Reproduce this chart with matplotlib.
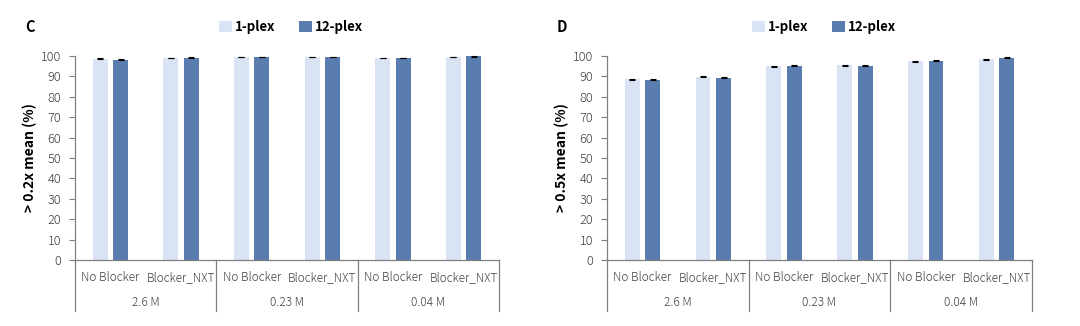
import numpy as np
import matplotlib

matplotlib.use("Agg")
import matplotlib.pyplot as plt
from matplotlib.patches import Patch

plt.rcParams["font.family"] = ["Noto Sans CJK JP", "DejaVu Sans"]

# Sub-categories (blocker) within each input-amount group
conditions = ["No Blocker", "Blocker_NXT", "No Blocker", "Blocker_NXT", "No Blocker", "Blocker_NXT"]
groups = ["2.6 M", "0.23 M", "0.04 M"]
series = ["1-plex", "12-plex"]

# Panel C: > 0.2x mean (%)
c_1plex = [98.7, 99.0, 99.6, 99.6, 99.1, 99.5]
c_12plex = [98.2, 99.2, 99.5, 99.6, 99.0, 99.8]
c_err_1 = [0.15, 0.15, 0.15, 0.15, 0.15, 0.15]
c_err_12 = [0.15, 0.15, 0.15, 0.15, 0.15, 0.15]

# Panel D: > 0.5x mean (%)
d_1plex = [88.6, 89.8, 95.0, 95.4, 97.4, 98.4]
d_12plex = [88.3, 89.3, 95.3, 95.3, 97.7, 99.2]
d_err_1 = [0.2, 0.2, 0.2, 0.2, 0.2, 0.2]
d_err_12 = [0.2, 0.2, 0.2, 0.2, 0.2, 0.2]

LIGHT = "#dae3f3"
DARK = "#5a7db0"
AXIS_GRAY = "#7f7f7f"
TEXT_GRAY = "#3f3f3f"

W, H = 1080, 326


def draw_panel(ax, vals1, vals12, err1, err12, ylabel):
    n = len(conditions)
    x = np.arange(n)
    bw = 0.21
    off = 0.145
    ax.bar(x - off, vals1, bw, color=LIGHT, zorder=2)
    ax.bar(x + off, vals12, bw, color=DARK, zorder=2)
    for xs, vals, err in ((x - off, vals1, err1), (x + off, vals12, err12)):
        ax.errorbar(xs, vals, yerr=err, fmt="none", ecolor="black",
                    elinewidth=0.8, capsize=2.5, capthick=0.8, zorder=3,
                    clip_on=False)

    ax.set_xlim(-0.5, n - 0.5)
    ax.set_ylim(0, 100)
    ax.set_yticks(np.arange(0, 101, 10))
    ax.tick_params(axis="y", direction="out", length=4, width=0.8, color=AXIS_GRAY,
                   labelsize=9.2, labelcolor=TEXT_GRAY, pad=6)
    for lab in ax.get_yticklabels():
        lab.set_fontweight("light")
    ax.set_xticks([])
    for s in ["top", "right", "left"]:
        ax.spines[s].set_visible(False)
    ax.spines["bottom"].set_color(AXIS_GRAY)
    ax.spines["bottom"].set_linewidth(0.9)

    # left spine running from 100 down through the category rows
    trans = ax.get_xaxis_transform()
    ax.plot([-0.5, -0.5], [1.0, -0.25], transform=trans, color=AXIS_GRAY,
            lw=0.9, clip_on=False)
    # vertical separators between groups and at the right edge
    for b in [1.5, 3.5, 5.5]:
        ax.plot([b, b], [0, -0.25], transform=trans, color=AXIS_GRAY,
                lw=0.9, clip_on=False)

    for i, lab in enumerate(conditions):
        ax.text(i, -0.085, lab, transform=trans, ha="center", va="center",
                fontsize=8.5, color=TEXT_GRAY, fontweight="light")
    for g, lab in enumerate(groups):
        ax.text(2 * g + 0.5, -0.21, lab, transform=trans, ha="center",
                va="center", fontsize=8.5, color=TEXT_GRAY, fontweight="light")

    ax.set_ylabel(ylabel, fontsize=10, fontweight="bold")
    ax.yaxis.set_label_coords(-0.09, 0.5)


fig = plt.figure(figsize=(W / 100, H / 100), dpi=100)
bottom = (H - 260) / H
top = (H - 56) / H

ax1 = fig.add_axes([75 / W, bottom, (499 - 75) / W, top - bottom])
ax2 = fig.add_axes([607 / W, bottom, (1032 - 607) / W, top - bottom])

draw_panel(ax1, c_1plex, c_12plex, c_err_1, c_err_12, "> 0.2x mean (%)")
draw_panel(ax2, d_1plex, d_12plex, d_err_1, d_err_12, "> 0.5x mean (%)")

fig.text(25 / W, 1 - 27 / H, "C", fontsize=10.5, fontweight="bold", va="center")
fig.text(557 / W, 1 - 27 / H, "D", fontsize=10.5, fontweight="bold", va="center")

handles = [Patch(facecolor=LIGHT, label=series[0]),
           Patch(facecolor=DARK, label=series[1])]
for ax in (ax1, ax2):
    ax.legend(handles=handles, loc="center", bbox_to_anchor=(0.51, 1 + 29 / 204),
              ncol=2, frameon=False, prop={"weight": "bold", "size": 9.5},
              handlelength=1.0, handleheight=1.0, handletextpad=0.2,
              columnspacing=1.8)

fig.savefig("out.png", dpi=100, facecolor="white")
